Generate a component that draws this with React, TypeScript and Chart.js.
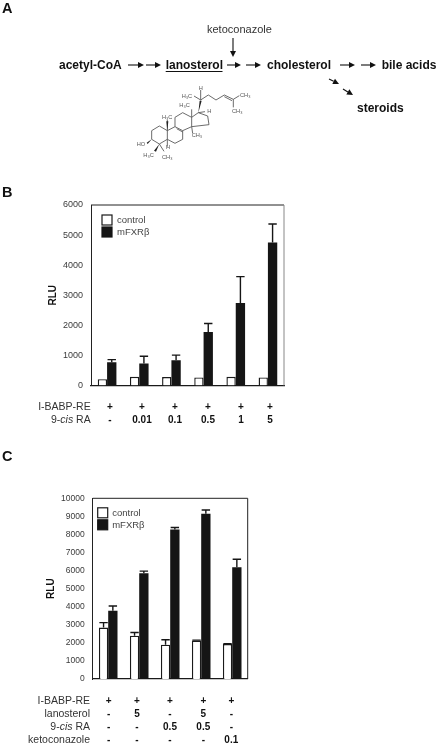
import React, { useEffect, useRef } from "react";
import { Chart, registerables } from "chart.js";

Chart.register(...registerables);

const FONT = '"Liberation Sans", Arial, sans-serif';

const seriesNames = ["control", "mFXRβ"];

// Panel B
const catsB = ["a", "b", "c", "d", "e", "f"];
const controlB = [210, 290, 280, 270, 290, 270];
const fxrB = [770, 730, 840, 1780, 2740, 4750];
const controlTopB = [210, 290, 280, 270, 290, 270];
const fxrTopB = [860, 970, 1010, 2060, 3620, 5370];
const rowBABPB = ["+", "+", "+", "+", "+", "+"];
const rowRAB = ["-", "0.01", "0.1", "0.5", "1", "5"];

// Panel C
const catsC = ["a", "b", "c", "d", "e"];
const controlC = [2850, 2400, 1900, 2130, 1930];
const fxrC = [3780, 5850, 8280, 9150, 6180];
const controlTopC = [3120, 2570, 2170, 2150, 1950];
const fxrTopC = [4040, 5970, 8380, 9350, 6630];
const rowBABPC = ["+", "+", "+", "+", "+"];
const rowLanoC = ["-", "5", "-", "5", "-"];
const rowRAC = ["-", "-", "0.5", "0.5", "-"];
const rowKetoC = ["-", "-", "-", "-", "0.1"];

const errorPlugin = {
  id: "errorTops",
  afterDatasetsDraw(chart: any) {
    const { ctx, scales } = chart;
    chart.data.datasets.forEach((ds: any, di: number) => {
      const meta = chart.getDatasetMeta(di);
      ds.tops.forEach((top: number, i: number) => {
        if (top <= ds.data[i]) return;
        const el = meta.data[i];
        const y = scales.y.getPixelForValue(top);
        ctx.save();
        ctx.strokeStyle = "#161616";
        ctx.lineWidth = 1.4;
        ctx.beginPath();
        ctx.moveTo(el.x, el.y);
        ctx.lineTo(el.x, y);
        ctx.moveTo(el.x - 4.2, y);
        ctx.lineTo(el.x + 4.2, y);
        ctx.stroke();
        ctx.restore();
      });
    });
  },
};

const framePlugin = {
  id: "frame",
  beforeDatasetsDraw(chart: any, _a: any, opts: any) {
    const { ctx, chartArea: a } = chart;
    ctx.save();
    ctx.lineWidth = 1;
    ctx.strokeStyle = opts.top;
    ctx.beginPath();
    ctx.moveTo(a.left, a.top);
    ctx.lineTo(a.right, a.top);
    ctx.stroke();
    ctx.strokeStyle = opts.right;
    ctx.beginPath();
    ctx.moveTo(a.right, a.top);
    ctx.lineTo(a.right, a.bottom);
    ctx.stroke();
    // legend inside the plot, drawn from the dataset labels and colours
    ctx.font = `9.5px ${FONT}`;
    ctx.textBaseline = "middle";
    chart.data.datasets.forEach((ds: any, i: number) => {
      const x = a.left + opts.legendX;
      const y = a.top + opts.legendY + i * opts.legendStep;
      ctx.fillStyle = ds.backgroundColor;
      ctx.fillRect(x, y, 10, 10);
      ctx.strokeStyle = ds.borderColor;
      ctx.lineWidth = 1.2;
      ctx.strokeRect(x, y, 10, 10);
      ctx.fillStyle = "#444444";
      ctx.fillText(ds.label, x + opts.legendGap, y + 5.5);
    });
    ctx.restore();
  },
};

function Bars(props: {
  left: number; top: number; width: number; height: number;
  yWidth: number; padTop: number; padRight: number; padBottom: number;
  cats: string[]; control: number[]; fxr: number[]; controlTop: number[]; fxrTop: number[];
  max: number; tickSize: number; catPct: number; legendX: number; legendY: number; legendGap: number;
  frameRight: string; titlePad: number;
}) {
  const ref = useRef<HTMLCanvasElement>(null);
  useEffect(() => {
    const p = props;
    const chart = new Chart(ref.current as HTMLCanvasElement, {
      type: "bar",
      data: {
        labels: p.cats,
        datasets: [
          { label: seriesNames[0], data: p.control, tops: p.controlTop, backgroundColor: "#ffffff", borderColor: "#1a1a1a", borderWidth: 1.4 },
          { label: seriesNames[1], data: p.fxr, tops: p.fxrTop, backgroundColor: "#151515", borderColor: "#151515", borderWidth: 0 },
        ] as any,
      },
      plugins: [errorPlugin, framePlugin],
      options: {
        animation: false,
        responsive: false,
        layout: { padding: { top: p.padTop, right: p.padRight, bottom: p.padBottom, left: 0 } },
        datasets: { bar: { categoryPercentage: p.catPct, barPercentage: 1 } },
        plugins: {
          tooltip: { enabled: false },
          legend: { display: false },
          frame: {
            top: "#222222", right: p.frameRight,
            legendX: p.legendX, legendY: p.legendY, legendStep: 12, legendGap: p.legendGap,
          },
        } as any,
        scales: {
          x: {
            grid: { display: false, drawTicks: false },
            ticks: { display: false },
            border: { color: "#1a1a1a", width: 1.3 },
            afterFit: (s: any) => { s.height = 0; s.paddingLeft = 0; s.paddingRight = 0; },
          },
          y: {
            min: 0, max: p.max,
            grid: { display: false, drawTicks: false },
            border: { color: "#222222", width: 1 },
            ticks: {
              stepSize: 1000, padding: 8, color: "#3a3a3a",
              font: { family: FONT, size: p.tickSize },
              callback: (v: any) => String(v),
            },
            title: {
              display: true, text: "RLU", color: "#111111",
              font: { family: FONT, size: 10, weight: "bold" },
              padding: { top: p.titlePad, bottom: 0 },
            },
            afterFit: (s: any) => { s.width = p.yWidth; s.paddingTop = 0; s.paddingBottom = 0; },
          },
        },
      } as any,
    });
    return () => chart.destroy();
  }, []);
  return (
    <canvas
      ref={ref}
      width={props.width}
      height={props.height}
      style={{ position: "absolute", left: props.left, top: props.top, width: props.width, height: props.height }}
    />
  );
}

function Row(props: { label: React.ReactNode; y: number; xs: number[]; vals: string[]; right: number }) {
  return (
    <g>
      <text x={props.right} y={props.y} textAnchor="end" fontSize="10.5" fill="#333">{props.label}</text>
      {props.vals.map((v, i) => (
        <text key={i} x={props.xs[i]} y={props.y} textAnchor="middle" fontSize="10" fontWeight="bold" fill="#111">{v}</text>
      ))}
    </g>
  );
}

function Arrow(props: { x1: number; y1: number; x2: number; y2: number }) {
  const { x1, y1, x2, y2 } = props;
  const a = Math.atan2(y2 - y1, x2 - x1);
  const L = 6, W = 3;
  const bx = x2 - L * Math.cos(a), by = y2 - L * Math.sin(a);
  const px = -Math.sin(a) * W, py = Math.cos(a) * W;
  return (
    <g>
      <line x1={x1} y1={y1} x2={bx} y2={by} stroke="#111" strokeWidth="1.1" />
      <polygon points={`${x2},${y2} ${bx + px},${by + py} ${bx - px},${by - py}`} fill="#111" />
    </g>
  );
}

const xsB = [110, 142, 175, 208, 241, 270];
const xsC = [108.7, 137, 170, 203.3, 231.3];
const cis = <><tspan>9-</tspan><tspan fontStyle="italic">cis</tspan><tspan> RA</tspan></>;

function Molecule() {
  const bonds =
    "M65 152 L88 138 L112 152 L112 178 L88 192 L65 178 Z " +
    "M112 152 L135 140 L158 152 L158 178 L135 190 L112 178 " +
    "M135 140 L135 112 L158 98 L185 112 L185 140 L158 152 " +
    "M140 146 L158 156 " +
    "M185 112 L205 98 L233 108 L237 134 L185 140 " +
    "M212 60 L235 45 L258 60 L283 45 L310 58 " +
    "M283 50 L306 62 " +
    "M310 58 L328 47 M310 58 L310 82 " +
    "M212 60 L192 48 M212 30 L212 60 " +
    "M185 112 L185 88 M88 192 L102 214 M112 152 L112 120 " +
    "M185 140 L188 160 M112 178 L112 200 M205 98 L225 95";
  const wedges = "M205 98 L209 62 L215 62 Z M88 192 L72 212 L78 215 Z M65 178 L50 188 L53 192 Z M112 152 L109 124 L115 124 Z";
  const labels: [string, number, number][] = [
    ["H", 206, 30], ["H₃C", 155, 54], ["CH₃", 330, 52], ["CH₃", 306, 98],
    ["H₃C", 148, 82], ["H₃C", 96, 116], ["H", 232, 98], ["CH₃", 185, 172],
    ["HO", 20, 198], ["H₃C", 40, 232], ["CH₃", 96, 236], ["H", 108, 206],
  ];
  return (
    <g transform="translate(130 80) scale(0.3333)">
      <path d={bonds} fill="none" stroke="#555" strokeWidth="2.6" />
      <path d={wedges} fill="#222" />
      {labels.map(([t, x, y], i) => (
        <text key={i} x={x} y={y} fontSize="17" fill="#555">{t}</text>
      ))}
    </g>
  );
}

export default function App() {
  useEffect(() => {
    document.body.style.margin = "0";
  }, []);
  return (
    <div style={{ position: "absolute", left: 0, top: 0, width: 436, height: 745, overflow: "hidden", background: "#fff" }}>
      <Bars
        left={40} top={195} width={250} height={195} yWidth={51}
        padTop={10} padRight={6} padBottom={4.5}
        cats={catsB} control={controlB} fxr={fxrB} controlTop={controlTopB} fxrTop={fxrTopB}
        max={6000} tickSize={9} catPct={0.58} legendX={11} legendY={10} legendGap={15}
        frameRight="#888888" titlePad={7}
      />
      <Bars
        left={40} top={488} width={215} height={195} yWidth={52.7}
        padTop={10.3} padRight={7.3} padBottom={4}
        cats={catsC} control={controlC} fxr={fxrC} controlTop={controlTopC} fxrTop={fxrTopC}
        max={10000} tickSize={8.5} catPct={0.6} legendX={5} legendY={9.5} legendGap={14.5}
        frameRight="#222222" titlePad={5.6}
      />
      <svg
        width={436}
        height={745}
        style={{ position: "absolute", left: 0, top: 0, pointerEvents: "none" }}
        fontFamily={FONT}
      >
        <text x={2} y={13} fontSize="14.5" fontWeight="bold" fill="#111">A</text>
        <text x={2} y={197} fontSize="14.5" fontWeight="bold" fill="#111">B</text>
        <text x={2} y={461} fontSize="14.5" fontWeight="bold" fill="#111">C</text>

        <text x={207} y={32.5} fontSize="11" fill="#333">ketoconazole</text>
        <g fontSize="12" fontWeight="bold" fill="#111">
          <text x={59} y={69}>acetyl-CoA</text>
          <text x={165.7} y={69}>lanosterol</text>
          <text x={267} y={69}>cholesterol</text>
          <text x={381.7} y={69}>bile acids</text>
          <text x={357} y={112}>steroids</text>
        </g>
        <line x1={165.7} y1={71.5} x2={222.5} y2={71.5} stroke="#111" strokeWidth="1.1" />
        <Arrow x1={128} y1={65} x2={144} y2={65} />
        <Arrow x1={146} y1={65} x2={161} y2={65} />
        <Arrow x1={227} y1={65} x2={241} y2={65} />
        <Arrow x1={246} y1={65} x2={261} y2={65} />
        <Arrow x1={340} y1={65} x2={355} y2={65} />
        <Arrow x1={361} y1={65} x2={376} y2={65} />
        <Arrow x1={329} y1={79} x2={339} y2={84} />
        <Arrow x1={343} y1={89} x2={353} y2={95} />
        <Arrow x1={233} y1={38} x2={233} y2={57} />
        <Molecule />

        <Row label="I-BABP-RE" y={410} right={90.7} xs={xsB} vals={rowBABPB} />
        <Row label={cis} y={423} right={90.7} xs={xsB} vals={rowRAB} />

        <Row label="I-BABP-RE" y={703.5} right={90} xs={xsC} vals={rowBABPC} />
        <Row label="lanosterol" y={716.5} right={90} xs={xsC} vals={rowLanoC} />
        <Row label={cis} y={729.5} right={90} xs={xsC} vals={rowRAC} />
        <Row label="ketoconazole" y={742.5} right={90} xs={xsC} vals={rowKetoC} />
      </svg>
    </div>
  );
}
